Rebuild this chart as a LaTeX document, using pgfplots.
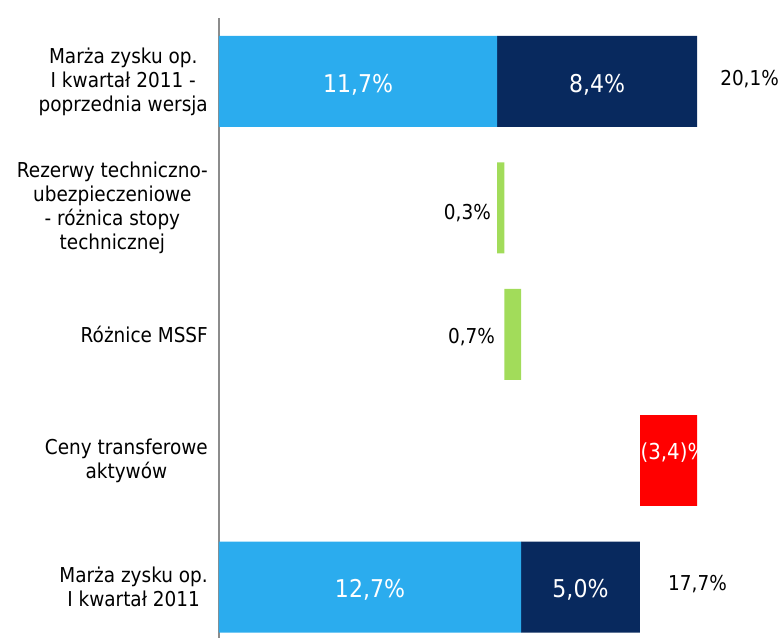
\documentclass[border=0pt]{standalone}
\usepackage{pgfplots}
\pgfplotsset{compat=1.18}
\usepackage{fontspec}
\setmainfont{DejaVu Sans}[FakeStretch=0.9]
\definecolor{lblue}{RGB}{43,172,238}
\definecolor{navy}{RGB}{8,41,94}
\definecolor{lgreen}{RGB}{162,220,90}
\definecolor{myred}{RGB}{255,0,0}
\definecolor{axgray}{RGB}{140,140,140}
\begin{document}
\begin{tikzpicture}
\begin{axis}[
  name=ax,
  scale only axis,
  width=478bp, height=620bp,
  xmin=0, xmax=20.1,
  ymin=-0.403, ymax=4.502,
  xbar stacked,
  bar width=91bp,
  axis x line=none,
  axis y line*=left,
  y axis line style={axgray, line width=1.3bp, -},
  xtick=\empty,
  ytick={0,1,2,3,4},
  yticklabels={{Marża zysku op.\\I kwartał 2011},{Ceny transferowe\\aktywów},{Różnice MSSF},{Rezerwy techniczno-\\ubezpieczeniowe\\- różnica stopy\\technicznej},{Marża zysku op.\\I kwartał 2011 -\\poprzednia wersja}},
  major tick length=0pt,
  yticklabel style={align=center, font=\fontsize{20.5bp}{24bp}\selectfont, inner sep=0pt, xshift=-11bp},
  clip mode=individual,
]
\addplot [draw=none, fill=none] coordinates {(0,0) (17.7,1) (12.0,2) (11.7,3) (0,4)};
\addplot [draw=none, fill=lblue] coordinates {(12.7,0) (0,1) (0,2) (0,3) (11.7,4)};
\addplot [draw=none, fill=navy] coordinates {(5.0,0) (0,1) (0,2) (0,3) (8.4,4)};
\addplot [draw=none, fill=lgreen] coordinates {(0,0) (0,1) (0.7,2) (0.3,3) (0,4)};
\addplot [draw=none, fill=myred] coordinates {(0,0) (3.4,1) (0,2) (0,3) (0,4)};
\end{axis}
\begin{axis}[
  at={(ax.south west)}, anchor=south west,
  scale only axis,
  width=478bp, height=620bp,
  xmin=0, xmax=20.1,
  ymin=-0.403, ymax=4.502,
  hide axis,
  clip=false,
]
\addplot [draw=none, mark=none, nodes near coords, point meta=explicit symbolic,
  every node near coord/.append style={anchor=center, inner sep=0pt, text=white, font=\fontsize{24.5bp}{28bp}\selectfont}]
  table [x=x, y=y, meta=lab] {
x y lab
5.85 3.975 11,7\%
15.9 3.975 8,4\%
6.35 -0.02 12,7\%
15.2 -0.02 5,0\%
};
\addplot [draw=none, mark=none, nodes near coords, point meta=explicit symbolic,
  every node near coord/.append style={anchor=west, inner sep=0pt, text=white, font=\fontsize{22bp}{26bp}\selectfont}]
  table [x=x, y=y, meta=lab] {
x y lab
17.72 1.06 (3,4)\%
};
\addplot [draw=none, mark=none, nodes near coords, point meta=explicit symbolic,
  every node near coord/.append style={anchor=west, inner sep=0pt, text=black, font=\fontsize{20.5bp}{24bp}\selectfont}]
  table [x=x, y=y, meta=lab] {
x y lab
21.07 4.02 20,1\%
18.88 0.02 17,7\%
};
\addplot [draw=none, mark=none, nodes near coords, point meta=explicit symbolic,
  every node near coord/.append style={anchor=east, inner sep=0pt, text=black, font=\fontsize{20.5bp}{24bp}\selectfont}]
  table [x=x, y=y, meta=lab] {
x y lab
11.44 2.96 0,3\%
11.61 1.98 0,7\%
};
\end{axis}
\pgfresetboundingbox
\useasboundingbox ([xshift=-219bp]ax.south west) rectangle ([xshift=85bp,yshift=18bp]ax.north east);
\end{tikzpicture}
\end{document}
